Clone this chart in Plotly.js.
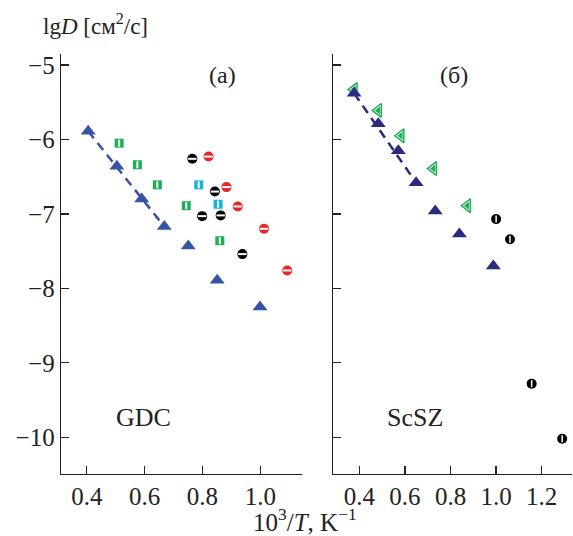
<!DOCTYPE html>
<html>
<head>
<meta charset="utf-8">
<script src="https://cdn.plot.ly/plotly-3.0.1.min.js"></script>
<style>html,body{margin:0;padding:0;background:#fff}#chart{width:573px;height:536px}</style>
</head>
<body>
<div id="chart"></div>
<script>
// ---- Panel (a): GDC ----
const gdcTriX = [0.405, 0.504, 0.590, 0.668, 0.751, 0.851, 0.999];
const gdcTriY = [-5.89, -6.36, -6.80, -7.17, -7.43, -7.89, -8.25];
const gdcGreenX = [0.512, 0.575, 0.644, 0.744, 0.860];
const gdcGreenY = [-6.05, -6.34, -6.61, -6.89, -7.36];
const gdcCyanX = [0.787, 0.854];
const gdcCyanY = [-6.61, -6.87];
const gdcBlackX = [0.765, 0.843, 0.799, 0.863, 0.938];
const gdcBlackY = [-6.26, -6.70, -7.03, -7.02, -7.54];
const gdcRedX = [0.821, 0.883, 0.922, 1.013, 1.093];
const gdcRedY = [-6.23, -6.64, -6.90, -7.20, -7.76];
// ---- Panel (б): ScSZ ----
const scszTriX = [0.377, 0.483, 0.571, 0.649, 0.733, 0.839, 0.988];
const scszTriY = [-5.38, -5.79, -6.15, -6.58, -6.96, -7.27, -7.70];
const scszGreenX = [0.377, 0.483, 0.582, 0.725, 0.874];
const scszGreenY = [-5.33, -5.61, -5.95, -6.39, -6.89];
const scszBlackX = [1.000, 1.061, 1.156, 1.290];
const scszBlackY = [-7.07, -7.34, -9.28, -10.02];
// ticks
const xTicksA = [0.4, 0.6, 0.8, 1.0];
const xTicksB = [0.4, 0.6, 0.8, 1.0, 1.2];
const yTicks = [-5, -6, -7, -8, -9, -10];

const fmt = v => v.toFixed(1);
const yfmt = v => '\u2212' + Math.abs(v);

function sc(x, y, xa, ya, marker) {
  return {type: 'scatter', mode: 'markers', x: x, y: y, xaxis: xa, yaxis: ya,
          marker: marker, hoverinfo: 'skip', showlegend: false, cliponaxis: false};
}
const blueA = '#3953a4', navy = '#2b2b7e', green = '#1fae55', cyan = '#17b3da', red = '#e62628';

const traces = [
  // fits
  {type: 'scatter', mode: 'lines', x: [gdcTriX[0], gdcTriX[3]], y: [gdcTriY[0], gdcTriY[3]],
   line: {color: blueA, width: 2.5, dash: '9px,6px'}, xaxis: 'x', yaxis: 'y', showlegend: false},
  {type: 'scatter', mode: 'lines', x: [scszTriX[0], scszTriX[3]], y: [scszTriY[0], scszTriY[3]],
   line: {color: navy, width: 2.5, dash: '9px,6px'}, xaxis: 'x2', yaxis: 'y2', showlegend: false},
  // GDC
  sc(gdcTriX, gdcTriY, 'x', 'y', {symbol: 'triangle-up', size: 13, color: blueA}),
  sc(gdcGreenX, gdcGreenY, 'x', 'y', {symbol: 'square', size: 9, color: green}),
  sc(gdcGreenX, gdcGreenY, 'x', 'y', {symbol: 'line-ns', size: 5, line: {color: '#fff', width: 2}}),
  sc(gdcCyanX, gdcCyanY, 'x', 'y', {symbol: 'square', size: 9, color: cyan}),
  sc(gdcCyanX, gdcCyanY, 'x', 'y', {symbol: 'line-ns', size: 5, line: {color: '#fff', width: 2}}),
  sc(gdcBlackX, gdcBlackY, 'x', 'y', {symbol: 'circle', size: 10, color: '#000'}),
  sc(gdcBlackX, gdcBlackY, 'x', 'y', {symbol: 'line-ew', size: 6, line: {color: '#fff', width: 2}}),
  sc(gdcRedX, gdcRedY, 'x', 'y', {symbol: 'circle', size: 10, color: red}),
  sc(gdcRedX, gdcRedY, 'x', 'y', {symbol: 'line-ew', size: 6, line: {color: '#fff', width: 2}}),
  // ScSZ
  sc(scszGreenX, scszGreenY, 'x2', 'y2', {symbol: 'triangle-left', size: 12, color: '#fff', line: {color: green, width: 1.5}}),
  sc(scszGreenX, scszGreenY, 'x2', 'y2', {symbol: 'triangle-left', size: 7, color: green}),
  sc(scszTriX, scszTriY, 'x2', 'y2', {symbol: 'triangle-up', size: 13, color: navy}),
  sc(scszBlackX, scszBlackY, 'x2', 'y2', {symbol: 'circle', size: 10, color: '#000'}),
  sc(scszBlackX, scszBlackY, 'x2', 'y2', {symbol: 'line-ns', size: 5, line: {color: '#fff', width: 1.5}})
];

const serif = "'Liberation Serif', 'DejaVu Serif', serif";
const tf = {family: serif, size: 25, color: '#222'};
const axBase = {showgrid: false, zeroline: false, showline: true, linecolor: '#222', linewidth: 1.3,
  ticks: 'inside', ticklen: 8, tickwidth: 1.3, tickcolor: '#222', mirror: false};

const layout = {
  width: 573, height: 536,
  margin: {l: 61, r: 1, t: 54, b: 62},
  font: {family: serif, size: 22, color: '#222'},
  paper_bgcolor: '#fff', plot_bgcolor: '#fff',
  showlegend: false,
  xaxis: Object.assign({}, axBase, {domain: [0, 0.471], range: [0.311, 1.143], tickvals: xTicksA,
    ticktext: xTicksA.map(fmt), anchor: 'y', tickfont: tf}),
  xaxis2: Object.assign({}, axBase, {domain: [0.533, 1], range: [0.286, 1.333], tickvals: xTicksB,
    ticktext: xTicksB.map(fmt), anchor: 'y2', tickfont: tf}),
  yaxis: Object.assign({}, axBase, {range: [-10.494, -4.852], tickvals: yTicks, ticktext: yTicks.map(yfmt), anchor: 'x', tickfont: tf}),
  yaxis2: Object.assign({}, axBase, {range: [-10.494, -4.852], tickvals: yTicks, showticklabels: false, anchor: 'x2', tickfont: tf}),
  annotations: [
    {xref: 'paper', yref: 'paper', x: -0.039, y: 1.03, xanchor: 'left', yanchor: 'bottom', showarrow: false,
     text: 'lg<i>D</i> [см<sup>2</sup>/с]', font: {family: serif, size: 23, color: '#222'}},
    {xref: 'paper', yref: 'paper', x: 0.477, y: -0.152, xanchor: 'center', yanchor: 'bottom', showarrow: false,
     text: '10<sup>3</sup>/<i>T</i>, K<sup>−1</sup>', font: {family: serif, size: 25, color: '#222'}},
    {xref: 'x', yref: 'y', x: 0.87, y: -5.13, showarrow: false, text: '(a)', font: {family: serif, size: 24, color: '#222'}},
    {xref: 'x2', yref: 'y2', x: 0.815, y: -5.13, showarrow: false, text: '(б)', font: {family: serif, size: 24, color: '#222'}},
    {xref: 'x', yref: 'y', x: 0.595, y: -9.73, showarrow: false, text: 'GDC', font: {family: serif, size: 26, color: '#222'}},
    {xref: 'x2', yref: 'y2', x: 0.643, y: -9.73, showarrow: false, text: 'ScSZ', font: {family: serif, size: 26, color: '#222'}}
  ]
};

Plotly.newPlot('chart', traces, layout, {staticPlot: true, displayModeBar: false});
</script>
</body>
</html>
